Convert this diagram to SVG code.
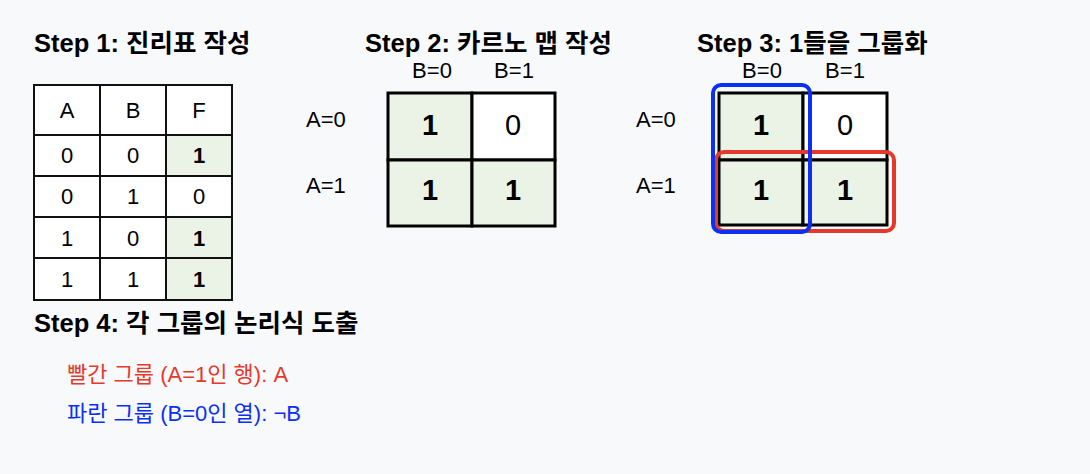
<svg xmlns="http://www.w3.org/2000/svg" width="1090" height="474" viewBox="0 0 1090 474">
<style>
text{font-family:"Liberation Sans","Noto Sans CJK KR",sans-serif;fill:#000}
.title{font-size:25.5px;font-weight:bold}
.lbl{font-size:22px}
.tc{font-size:22px;text-anchor:middle}
.tb{font-weight:bold}
.kv{font-size:29px;text-anchor:middle}
.cell{fill:#fff;stroke:#111;stroke-width:2}
.on{fill:#eaf3e6}
.kcell{stroke:#000;stroke-width:3}
.red{fill:#e5392c}
.blue{fill:#0b2ff5}
</style>
<rect width="1090" height="474" fill="#f8f9fb"/>

<g id="step1">
<text class="title" x="34" y="52">Step 1: 진리표 작성</text>
<g id="truth-table">
<rect class="cell" x="34" y="85" width="66" height="50"/>
<rect class="cell" x="100" y="85" width="66" height="50"/>
<rect class="cell" x="166" y="85" width="66" height="50"/>
<rect class="cell" x="34" y="135" width="66" height="41"/>
<rect class="cell" x="100" y="135" width="66" height="41"/>
<rect class="cell on" x="166" y="135" width="66" height="41"/>
<rect class="cell" x="34" y="176" width="66" height="41"/>
<rect class="cell" x="100" y="176" width="66" height="41"/>
<rect class="cell" x="166" y="176" width="66" height="41"/>
<rect class="cell" x="34" y="217" width="66" height="41"/>
<rect class="cell" x="100" y="217" width="66" height="41"/>
<rect class="cell on" x="166" y="217" width="66" height="41"/>
<rect class="cell" x="34" y="258" width="66" height="42"/>
<rect class="cell" x="100" y="258" width="66" height="42"/>
<rect class="cell on" x="166" y="258" width="66" height="42"/>
<text class="tc" x="67" y="118">A</text>
<text class="tc" x="133" y="118">B</text>
<text class="tc" x="199" y="118">F</text>
<text class="tc" x="67" y="163">0</text>
<text class="tc" x="133" y="163">0</text>
<text class="tc tb" x="199" y="163">1</text>
<text class="tc" x="67" y="204">0</text>
<text class="tc" x="133" y="204">1</text>
<text class="tc" x="199" y="204">0</text>
<text class="tc" x="67" y="246">1</text>
<text class="tc" x="133" y="246">0</text>
<text class="tc tb" x="199" y="246">1</text>
<text class="tc" x="67" y="287">1</text>
<text class="tc" x="133" y="287">1</text>
<text class="tc tb" x="199" y="287">1</text>
</g>
</g>

<g id="step2">
<text class="title" x="365" y="52">Step 2: 카르노 맵 작성</text>
<text class="tc" x="432" y="78">B=0</text>
<text class="tc" x="514" y="78">B=1</text>
<text class="lbl" x="306" y="127">A=0</text>
<text class="lbl" x="306" y="193">A=1</text>
<g id="kmap2">
<rect class="kcell on" x="388" y="93" width="84" height="67"/>
<rect class="kcell" x="472" y="93" width="83" height="67" fill="#fff"/>
<rect class="kcell on" x="388" y="160" width="84" height="66"/>
<rect class="kcell on" x="472" y="160" width="83" height="66"/>
<text class="kv tb" x="430" y="135">1</text>
<text class="kv" x="513" y="135">0</text>
<text class="kv tb" x="430" y="200">1</text>
<text class="kv tb" x="513" y="200">1</text>
</g>
</g>

<g id="step3">
<text class="title" x="697" y="52">Step 3: 1들을 그룹화</text>
<text class="tc" x="762" y="78">B=0</text>
<text class="tc" x="845" y="78">B=1</text>
<text class="lbl" x="636" y="127">A=0</text>
<text class="lbl" x="636" y="193">A=1</text>
<g id="kmap3">
<rect class="kcell on" x="719" y="93" width="84" height="67"/>
<rect class="kcell" x="803" y="93" width="84" height="67" fill="#fff"/>
<rect class="kcell on" x="719" y="160" width="84" height="65"/>
<rect class="kcell on" x="803" y="160" width="84" height="65"/>
<text class="kv tb" x="761" y="135">1</text>
<text class="kv" x="845" y="135">0</text>
<text class="kv tb" x="761" y="200">1</text>
<text class="kv tb" x="845" y="200">1</text>
</g>
<g id="group-red">
<rect x="716" y="152" width="178" height="79" rx="8" fill="none" stroke="#e5392c" stroke-width="4"/>
</g>
<g id="group-blue">
<rect x="713" y="85" width="97" height="147" rx="8" fill="none" stroke="#0b2ff5" stroke-width="4"/>
</g>
</g>

<g id="step4">
<text class="title" x="34" y="332">Step 4: 각 그룹의 논리식 도출</text>
<text class="lbl red" x="67" y="382">빨간 그룹 (A=1인 행): A</text>
<text class="lbl blue" x="67" y="421">파란 그룹 (B=0인 열): ¬B</text>
</g>

<g id="connectors"/>
</svg>
